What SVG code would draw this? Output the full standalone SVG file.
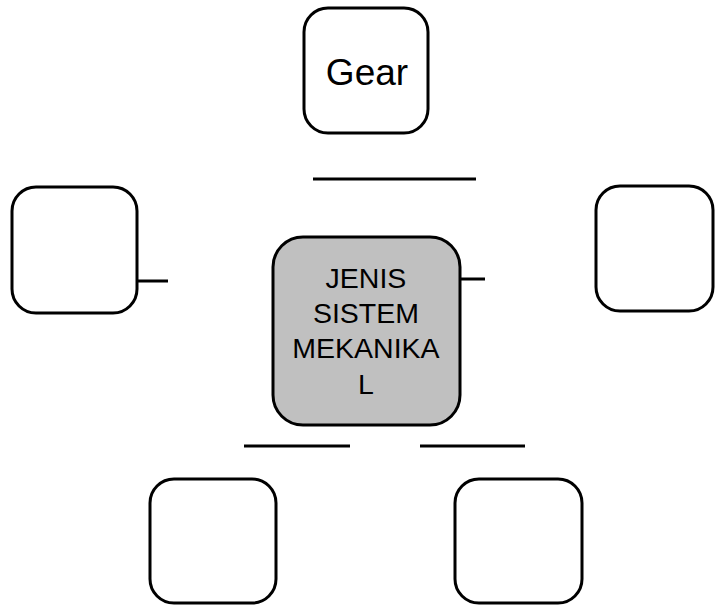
<svg xmlns="http://www.w3.org/2000/svg" width="715" height="605" viewBox="0 0 715 605">
<style>
.box{fill:#ffffff;stroke:#000000;stroke-width:3}
.center{fill:#c0c0c0;stroke:#000000;stroke-width:3}
.conn{stroke:#000000;stroke-width:3;fill:none}
text{font-family:"Liberation Sans",Arial,sans-serif;fill:#000000;text-anchor:middle}
</style>
<rect width="715" height="605" fill="#ffffff"/>
<g id="connectors">
<line class="conn" x1="313" y1="179" x2="476" y2="179"/>
<line class="conn" x1="137" y1="281" x2="168" y2="281"/>
<line class="conn" x1="460" y1="279" x2="485" y2="279"/>
<line class="conn" x1="244" y1="446" x2="350" y2="446"/>
<line class="conn" x1="420" y1="446" x2="525" y2="446"/>
</g>
<g id="node-gear">
<rect class="box" x="304" y="8" width="124" height="125" rx="24"/>
<text x="367" y="85" font-size="37">Gear</text>
</g>
<g id="node-left">
<rect class="box" x="12" y="187" width="125" height="126" rx="24"/>
</g>
<g id="node-right">
<rect class="box" x="596" y="186" width="117" height="125" rx="24"/>
</g>
<g id="node-center">
<rect class="center" x="273" y="237" width="187" height="188" rx="30"/>
<text x="366" y="288" font-size="28.5">JENIS</text>
<text x="366" y="323" font-size="28.5">SISTEM</text>
<text x="366" y="358" font-size="28.5">MEKANIKA</text>
<text x="366" y="394" font-size="28.5">L</text>
</g>
<g id="node-bottom-left">
<rect class="box" x="150" y="479" width="126" height="124" rx="24"/>
</g>
<g id="node-bottom-right">
<rect class="box" x="455" y="479" width="127" height="124" rx="24"/>
</g>
</svg>
